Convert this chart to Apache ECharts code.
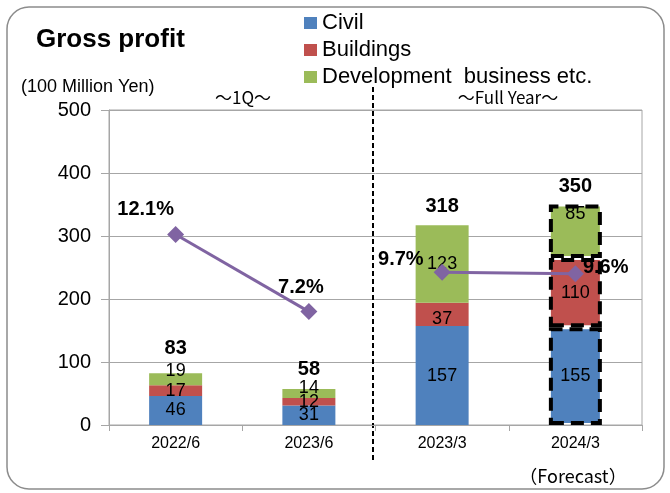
<!DOCTYPE html>
<html>
<head>
<meta charset="utf-8">
<script src="https://cdn.jsdelivr.net/npm/echarts@6/dist/echarts.min.js"></script>
<style>
  html, body { margin: 0; padding: 0; background: #fff; }
  #chart { width: 670px; height: 493px; }
</style>
</head>
<body>
<div id="chart"></div>
<script>
  // 期間・セグメント別の売上総利益（億円）
  const categories = ['2022/6', '2023/6', '2023/3', '2024/3'];
  const civil = [46, 31, 157, 155];
  const buildings = [17, 12, 37, 110];
  const development = [19, 14, 123, 85];
  const totals = [83, 58, 318, 350];
  const marginQ = [12.1, 7.2, '-', '-'];
  const marginFY = ['-', '-', 9.7, 9.6];
  const yTicks = [0, 100, 200, 300, 400, 500];

  const FONT = 'Liberation Sans, Arial, sans-serif';
  const CJK = '"Noto Sans CJK JP", sans-serif';
  const COLORS = { civil: '#4F81BD', buildings: '#C0504D', dev: '#9BBB59', margin: '#8064A2' };
  const forecastIdx = 3;

  function barData(vals) {
    return vals.map((v, i) => i === forecastIdx
      ? { value: v, itemStyle: { borderColor: '#000', borderWidth: 4, borderType: [13, 7] } }
      : { value: v });
  }

  const segLabel = { show: true, position: 'inside', color: '#000', fontSize: 18, fontFamily: FONT };

  const civilData = barData(civil);
  const bldData = barData(buildings);
  bldData[2].label = { offset: [0, 5] };
  const devData = barData(development);
  devData[0].label = { offset: [0, -8] };
  devData[1].label = { offset: [0, -5] };
  devData[forecastIdx].label = { position: 'insideTop', distance: 1 };

  const totalData = totals.map(v => ({ value: v }));
  totalData[0].label = { offset: [0, -6] };

  const pctLabel = { show: true, color: '#000', fontSize: 20, fontWeight: 'bold', fontFamily: FONT, formatter: p => p.value + '%' };

  const chart = echarts.init(document.getElementById('chart'));
  chart.setOption({
    animation: false,
    textStyle: { fontFamily: FONT },
    grid: { left: 109, right: 28, top: 110, bottom: 68, show: true, borderColor: '#A6A6A6', borderWidth: 1 },
    legend: {
      orient: 'vertical', left: 299, top: 7, itemGap: 5,
      itemWidth: 13, itemHeight: 12, icon: 'rect',
      textStyle: { fontSize: 22, lineHeight: 22, color: '#000', fontFamily: FONT },
      data: ['Civil', 'Buildings', 'Development  business etc.']
    },
    xAxis: {
      type: 'category', data: categories,
      axisLine: { lineStyle: { color: '#A6A6A6' } },
      axisTick: { show: true, length: 6, lineStyle: { color: '#A6A6A6' } },
      axisLabel: { color: '#000', fontSize: 16, margin: 11 }
    },
    yAxis: [{
      type: 'value', min: yTicks[0], max: yTicks[yTicks.length - 1], interval: 100,
      axisLine: { show: true, lineStyle: { color: '#A6A6A6' } },
      axisTick: { show: true, length: 8, lineStyle: { color: '#A6A6A6' } },
      axisLabel: { color: '#000', fontSize: 20, margin: 18 },
      splitLine: { lineStyle: { color: '#A6A6A6' } }
    }, {
      type: 'value', min: 0, max: 20, show: false
    }],
    series: [
      { name: 'Civil', type: 'bar', stack: 'gp', barWidth: 53, itemStyle: { color: COLORS.civil }, data: civilData, label: segLabel },
      { name: 'Buildings', type: 'bar', stack: 'gp', itemStyle: { color: COLORS.buildings }, data: bldData, label: segLabel },
      { name: 'Development  business etc.', type: 'bar', stack: 'gp', itemStyle: { color: COLORS.dev }, data: devData, label: segLabel },
      {
        name: 'total', type: 'scatter', symbolSize: 1, data: totalData, z: 5,
        itemStyle: { opacity: 1, color: 'rgba(0,0,0,0)' },
        label: { show: true, position: 'top', distance: 8, color: '#000', fontSize: 20, fontWeight: 'bold', fontFamily: FONT },
        emphasis: { disabled: true }
      },
      {
        name: 'marginQ', type: 'line', yAxisIndex: 1, z: 6,
        data: [
          { value: marginQ[0], label: { offset: [-30, 0] } },
          { value: marginQ[1], label: { offset: [-8, 0] } },
          marginQ[2], marginQ[3]
        ],
        symbol: 'diamond', symbolSize: 17,
        lineStyle: { color: COLORS.margin, width: 3 }, itemStyle: { color: COLORS.margin },
        label: Object.assign({}, pctLabel, { position: 'top', distance: 6 })
      },
      {
        name: 'marginFY', type: 'line', yAxisIndex: 1, z: 6,
        data: [
          marginFY[0], marginFY[1],
          { value: marginFY[2], label: { position: 'left', distance: 10, offset: [0, -13] } },
          { value: marginFY[3], label: { position: 'right', distance: 4, offset: [-5, -6] } }
        ],
        symbol: 'diamond', symbolSize: 17,
        lineStyle: { color: COLORS.margin, width: 3 }, itemStyle: { color: COLORS.margin },
        label: pctLabel
      }
    ]
  });

  // 1Qと通期の区切り線（カテゴリ間の中点）
  const xa = chart.convertToPixel({ xAxisIndex: 0 }, categories[1]);
  const xb = chart.convertToPixel({ xAxisIndex: 0 }, categories[2]);
  const divX = Math.round((xa + xb) / 2) - 3;

  function txt(x, y, text, font, family, align) {
    return { type: 'text', x, y, style: { text, font: font + ' ' + family, fill: '#000', align: align || 'left', verticalAlign: 'middle' } };
  }

  chart.setOption({
    graphic: [
      { type: 'rect', shape: { x: 7, y: 7, width: 657, height: 482, r: 22 }, style: { fill: 'none', stroke: '#8C8C8C', lineWidth: 1.5 }, silent: true },
      txt(36, 40, 'Gross profit', 'bold 26px', FONT),
      txt(21, 87, '(100 Million Yen)', '18px', FONT),
      txt(243, 98, '～1Q～', '17px', CJK, 'center'),
      txt(508, 98, '～Full Year～', '17px', CJK, 'center'),
      txt(573, 476, '（Forecast）', '18px', CJK, 'center'),
      { type: 'line', shape: { x1: divX, y1: 87, x2: divX, y2: 460 }, style: { stroke: '#000', lineWidth: 2, lineDash: [5, 3] }, silent: true }
    ]
  });
</script>
</body>
</html>
